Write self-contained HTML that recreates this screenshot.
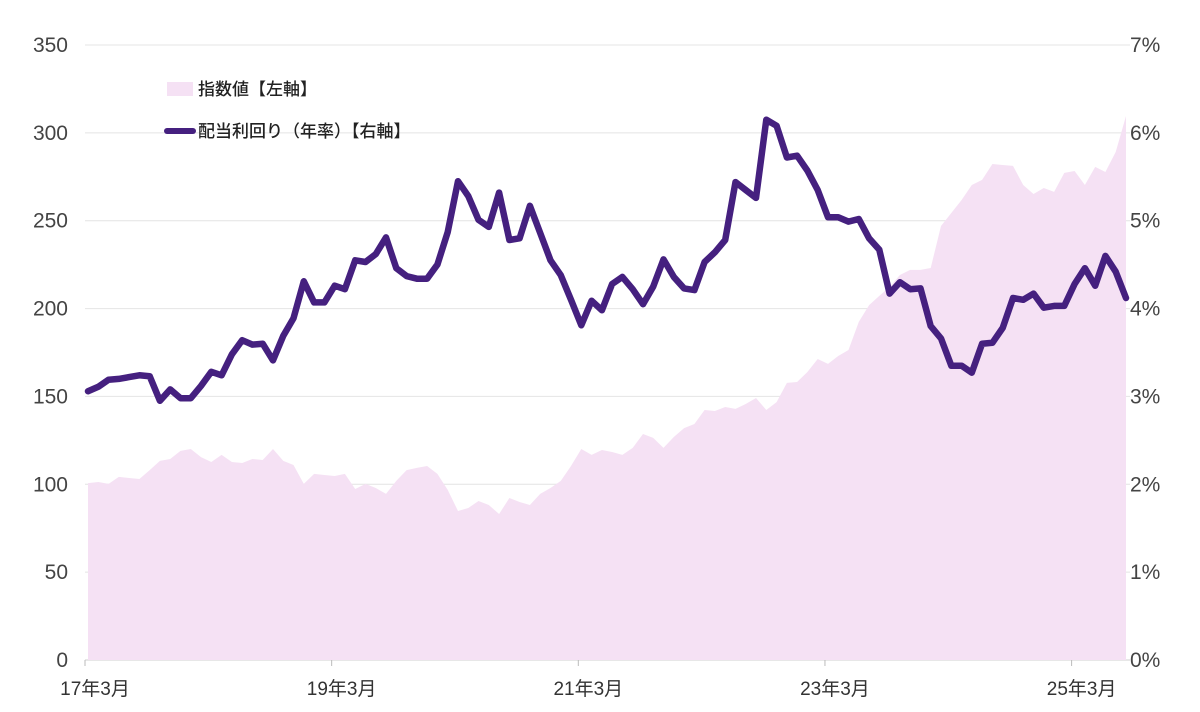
<!DOCTYPE html>
<html><head><meta charset="utf-8"><style>
body{margin:0;background:#fff;}
svg text{font-family:"Liberation Sans","Noto Sans CJK JP",sans-serif;}
</style></head><body>
<svg width="1200" height="707" xmlns="http://www.w3.org/2000/svg">
<g id="grid"></g>
<g id="area"></g>
<g id="line"></g>
<g id="axes"></g>
<g>
<rect x="167" y="82" width="26" height="14" fill="#f5e1f4"/>
<text x="198" y="95" font-size="17" font-weight="500" fill="#222">指数値【左軸】</text>
<line x1="167" y1="131" x2="193" y2="131" stroke="#45207f" stroke-width="6" stroke-linecap="round"/>
<text x="198" y="137" font-size="17" font-weight="500" fill="#222">配当利回り（年率）【右軸】</text>
</g>
</svg>
<script>
const indexValues=[100.7,101.3,100.2,104.2,103.6,103.0,108.1,113.3,114.4,119.0,
120.1,115.5,112.7,116.7,112.7,112.1,114.4,113.8,120.1,113.3,
111.0,100.2,105.9,105.3,104.7,105.9,97.3,100.2,97.9,94.5,
101.9,108.1,109.3,110.4,105.9,96.8,84.8,86.5,90.5,88.2,
83.1,92.2,89.9,88.2,94.5,97.9,101.9,110.4,120.1,116.7,
119.5,118.4,116.7,120.7,128.6,126.4,120.7,126.9,132.0,134.3,
142.3,141.7,144.0,142.9,145.7,149.1,142.3,146.8,157.7,158.2,
163.9,171.3,168.5,173.0,176.4,192.4,202.0,207.2,212.3,219.1,
222.0,222.0,223.1,247.0,254.4,261.8,270.3,273.2,282.3,281.7,
281.2,270.3,265.2,268.6,266.4,277.2,278.3,270.3,280.6,277.7,289.1,309.6];
const yieldValues=[3.06,3.11,3.19,3.20,3.22,3.24,3.23,2.95,3.08,2.98,
2.98,3.12,3.28,3.24,3.48,3.64,3.59,3.60,3.41,3.69,
3.89,4.31,4.07,4.07,4.26,4.22,4.55,4.53,4.62,4.81,
4.46,4.37,4.34,4.34,4.50,4.87,5.45,5.28,5.01,4.93,
5.32,4.78,4.80,5.17,4.86,4.55,4.38,4.10,3.81,4.09,
3.98,4.28,4.36,4.22,4.05,4.25,4.56,4.36,4.23,4.21,
4.53,4.64,4.78,5.44,5.35,5.26,6.15,6.08,5.72,5.74,
5.57,5.35,5.04,5.04,4.99,5.02,4.80,4.67,4.17,4.30,
4.22,4.23,3.80,3.66,3.35,3.35,3.27,3.60,3.61,3.78,
4.12,4.10,4.17,4.01,4.03,4.03,4.28,4.46,4.26,4.60,4.42,4.12];
const leftTicks=[0,50,100,150,200,250,300,350];
const rightTicks=["0%","1%","2%","3%","4%","5%","6%","7%"];
const xTickLabels=["17年3月","19年3月","21年3月","23年3月","25年3月"];
const xTickIndex=[0,24,48,72,96];

const NS="http://www.w3.org/2000/svg";
const X0=88,X1=1126,Y0=660,Y1=45;
function xs(i){return X0+(X1-X0)*i/(indexValues.length-1);}
function yl(v){return Y0-(Y0-Y1)*v/350;}
function yr(v){return Y0-(Y0-Y1)*v/7;}
function mk(t,a,p){const e=document.createElementNS(NS,t);for(const k in a)e.setAttribute(k,a[k]);p.appendChild(e);return e;}
const grid=document.getElementById('grid'),axes=document.getElementById('axes');
leftTicks.forEach((v,k)=>{
  const g=mk('line',{x1:85,x2:1130,y1:yl(v),y2:yl(v),stroke:k==0?'#cfcfcf':'#e4e4e4','stroke-width':1},grid);
  
  
  const t=mk('text',{x:68,y:yl(v)+7,'text-anchor':'end','font-size':21,fill:'#444'},axes);
  t.textContent=v;
  
  
  const r=mk('text',{x:1130,y:yl(v)+7,'font-size':21,fill:'#444'},axes);
  r.textContent=rightTicks[k];
  
  
});
xTickLabels.forEach((s,k)=>{
  const x=xs(xTickIndex[k])-3;
  const tk=mk('line',{x1:x,x2:x,y1:660,y2:666,stroke:'#bbb'},axes);
  
  
  const t=mk('text',{x:x+10,y:695,'text-anchor':'middle','font-size':19,fill:'#333'},axes);
  t.textContent=s;
  
  
});
let d='M'+xs(0)+','+Y0;
indexValues.forEach((v,i)=>{d+=' L'+xs(i).toFixed(1)+','+yl(v).toFixed(1);});
d+=' L'+xs(indexValues.length-1)+','+Y0+' Z';
const a=mk('path',{d:d,fill:'#f5e1f4'},document.getElementById('area'));


const pts=yieldValues.map((v,i)=>xs(i).toFixed(1)+','+yr(v).toFixed(1)).join(' ');
const l=mk('polyline',{points:pts,fill:'none',stroke:'#45207f','stroke-width':6.5,'stroke-linejoin':'round','stroke-linecap':'round'},document.getElementById('line'));


</script>
</body></html>
